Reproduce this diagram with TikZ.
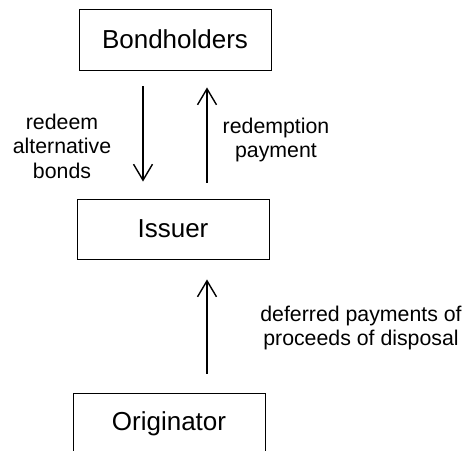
\documentclass[tikz,border=0pt]{standalone}
\usepackage{fontspec}
\setmainfont{Liberation Sans}
\usetikzlibrary{arrows.meta,calc}
\begin{document}
\begin{tikzpicture}[x=1pt,y=1pt,
  box/.style={draw,line width=0.9pt,minimum width=192pt,inner sep=0pt,font=\fontsize{26}{30}\selectfont},
  lbl/.style={align=center,inner sep=0pt,font=\fontsize{21.3}{24.5}\selectfont},
  arr/.style={line width=1.4pt,-{Straight Barb[length=16pt,width=19pt,line width=1.4pt]}}]
\clip (0,0) rectangle (465,450);
\node[box,minimum height=61pt] (b) at (175,410.5) {Bondholders};
\node[box,minimum height=60pt] (i) at (173,221) {Issuer};
\node[box,minimum height=62pt] (o) at (169,26) {Originator};
\coordinate (xl) at (143,0);
\coordinate (xr) at (207,0);
\draw[arr] ($(b.south -| xl)+(0,-16)$) -- ($(i.north -| xl)+(0,17)$);
\draw[arr] ($(i.north -| xr)+(0,16)$) -- ($(b.south -| xr)+(0,-17)$);
\draw[arr] ($(o.north -| xr)+(0,19)$) -- ($(i.south -| xr)+(0,-20)$);
\node[lbl] (l1) at (62,304) {redeem\\alternative\\bonds};
\node[lbl] (l2) at (276,310) {redemption\\payment};
\node[lbl] (l3) at (361,122) {deferred payments of\\proceeds of disposal};
\end{tikzpicture}
\end{document}
